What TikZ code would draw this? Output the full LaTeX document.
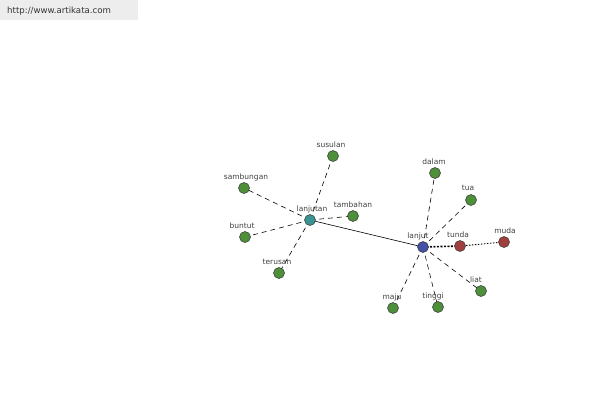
\documentclass[tikz,border=0pt]{standalone}
\usepackage{fontspec}
\setmainfont{DejaVu Sans}
\begin{document}
\begin{tikzpicture}[x=1pt,y=-1pt,
  vtx/.style={circle,draw=black!80,line width=0.5pt,minimum size=11pt,inner sep=0pt},
  lbl/.style={font=\fontsize{7.5}{9}\selectfont,text=black!75,inner sep=0pt},
  dsh/.style={dash pattern=on 5pt off 4pt,line width=0.6pt},
  dt/.style={dash pattern=on 1.5pt off 1.5pt,line width=0.9pt}]
\useasboundingbox (0,0) rectangle (600,400);
\fill[black!7] (0,0) rectangle (138,20);
\node[anchor=west,font=\fontsize{8.6}{10}\selectfont,text=black!80,inner sep=0pt] (url) at (7,11) {http://www.artikata.com};
\definecolor{ngreen}{HTML}{4E8F3A}
\definecolor{nteal}{HTML}{3B9493}
\definecolor{nblue}{HTML}{4551A8}
\definecolor{nred}{HTML}{A0403E}
\tikzset{gr/.style={vtx,fill=ngreen}}
% nodes
\coordinate (lanjutan) at (310,220);
\coordinate (susulan) at (333,156);
\coordinate (sambungan) at (244,188);
\coordinate (tambahan) at (353,216);
\coordinate (buntut) at (245,237);
\coordinate (terusan) at (279,273);
\coordinate (lanjut) at (423,247);
\coordinate (dalam) at (435,173);
\coordinate (tua) at (471,200);
\coordinate (tunda) at (460,246);
\coordinate (muda) at (504,242);
\coordinate (liat) at (481,291);
\coordinate (maju) at (393,308);
\coordinate (tinggi) at (438,307);
% edges
\draw[line width=0.6pt] (lanjutan) -- (lanjut);
\foreach \n in {susulan,sambungan,tambahan,buntut,terusan}
  \draw[dsh] (lanjutan) -- (\n);
\foreach \n in {dalam,tua,liat,maju,tinggi}
  \draw[dsh] (lanjut) -- (\n);
\draw[dash pattern=on 2pt off 1.5pt,line width=1.6pt] (lanjut) -- (tunda);
\draw[dt] (tunda) -- (muda);
% vertices
\foreach \n in {susulan,sambungan,tambahan,buntut,terusan,dalam,tua,liat,maju,tinggi}
  \node[gr] (v\n) at (\n) {};
\node[vtx,fill=nteal] (vlanjutan) at (lanjutan) {};
\node[vtx,fill=nblue] (vlanjut) at (lanjut) {};
\node[vtx,fill=nred] (vtunda) at (tunda) {};
\node[vtx,fill=nred] (vmuda) at (muda) {};
% labels
\node[lbl] (lsusulan) at (331,145) {susulan};
\node[lbl] (lsambungan) at (246,177) {sambungan};
\node[lbl] (llanjutan) at (312,209) {lanjutan};
\node[lbl] (ltambahan) at (353,205) {tambahan};
\node[lbl] (lbuntut) at (242,226) {buntut};
\node[lbl] (lterusan) at (277,262) {terusan};
\node[lbl] (ldalam) at (434,162) {dalam};
\node[lbl] (ltua) at (468,188) {tua};
\node[lbl] (llanjut) at (418,236) {lanjut};
\node[lbl] (ltunda) at (458,235) {tunda};
\node[lbl] (lmuda) at (505,231) {muda};
\node[lbl] (lliat) at (476,280) {liat};
\node[lbl] (lmaju) at (392,297) {maju};
\node[lbl] (ltinggi) at (433,296) {tinggi};
\end{tikzpicture}
\end{document}
